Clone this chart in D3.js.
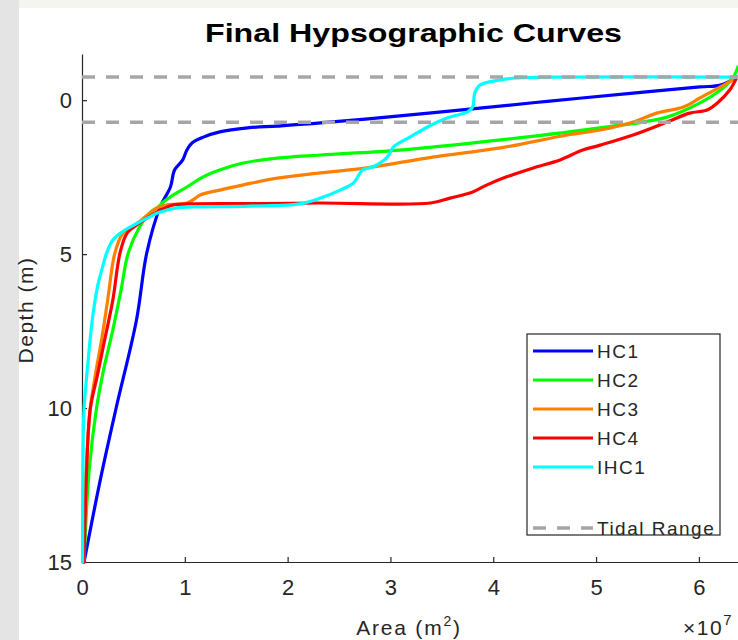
<!DOCTYPE html>
<html><head><meta charset="utf-8">
<script src="https://cdn.jsdelivr.net/npm/d3@7"></script>
<style>
html,body{margin:0;padding:0;background:#fff;}
svg{display:block;font-family:"Liberation Sans",Arial,Helvetica,sans-serif;}
</style></head>
<body>
<script>
// Area values in units of 1e7 m^2, depth in m
const seriesNames = ["HC1","HC2","HC3","HC4","IHC1"];
const seriesColors = ["#0000ff","#00ff00","#ff8000","#ff0000","#00ffff"];

const hc1Area  = [0.02,0.18,0.33,0.53,0.63,0.76,0.86,0.90,0.98,1.02,1.07,1.18,1.34,1.61,1.90,2.32,3.09,3.77,4.55,5.36,6.01,6.21,6.37];
const hc1Depth = [15,12.3,10.03,7.14,4.96,3.47,2.82,2.27,1.94,1.62,1.39,1.20,1.03,0.90,0.84,0.74,0.51,0.29,0.03,-0.23,-0.43,-0.49,-0.75];

const hc2Area  = [0.02,0.07,0.14,0.21,0.30,0.38,0.45,0.56,0.66,0.74,0.79,0.86,1.02,1.18,1.34,1.57,1.90,2.32,3.09,4.07,5.04,5.69,6.01,6.21,6.33,6.38];
const hc2Depth = [15,12.01,10.03,8.76,7.46,6.16,4.96,4.12,3.66,3.47,3.31,3.14,2.82,2.49,2.27,2.04,1.88,1.78,1.62,1.29,0.90,0.55,0.09,-0.33,-0.72,-1.08];

const hc3Area  = [0.01,0.04,0.08,0.13,0.19,0.25,0.32,0.40,0.54,0.73,0.83,1.02,1.08,1.15,1.34,1.57,1.90,2.32,2.77,3.41,4.07,4.72,5.04,5.36,5.59,5.85,6.01,6.21,6.33,6.37];
const hc3Depth = [15,12.01,10.03,8.93,7.79,6.49,4.96,4.31,3.99,3.50,3.40,3.34,3.24,3.08,2.92,2.75,2.53,2.36,2.20,1.85,1.55,1.13,0.97,0.71,0.42,0.22,-0.07,-0.43,-0.66,-0.75];

const hc4Area  = [0.02,0.045,0.08,0.15,0.22,0.30,0.37,0.44,0.56,0.73,0.83,0.89,1.03,1.63,2.32,3.39,3.58,3.80,3.94,4.13,4.39,4.65,4.87,5.04,5.36,5.69,5.91,6.08,6.18,6.30,6.37];
const hc4Depth = [15,12.01,10.03,8.93,7.79,6.49,4.96,4.31,3.99,3.63,3.47,3.40,3.37,3.36,3.34,3.34,3.18,2.98,2.75,2.49,2.20,1.94,1.62,1.46,1.13,0.71,0.42,0.32,0.09,-0.33,-0.75];

const ihc1Area  = [0.005,0.01,0.02,0.06,0.10,0.15,0.20,0.24,0.30,0.39,0.54,0.66,0.74,0.92,1.08,1.63,2.12,2.32,2.51,2.64,2.73,2.83,2.97,3.03,3.19,3.36,3.55,3.75,3.80,3.82,3.87,4.07,4.23,4.65,6.37];
const ihc1Depth = [15,11.36,10.03,8.44,7.14,6.07,5.42,4.96,4.54,4.28,3.99,3.79,3.66,3.50,3.47,3.44,3.37,3.18,2.92,2.69,2.27,2.17,1.85,1.52,1.20,0.87,0.58,0.38,0.22,-0.23,-0.49,-0.66,-0.72,-0.75,-0.75];

const tidalRange = [-0.75, 0.72];
const xTicks = [0,1,2,3,4,5,6];
const yTicks = [0,5,10,15];

const seriesArea = [hc1Area,hc2Area,hc3Area,hc4Area,ihc1Area];
const seriesDepth = [hc1Depth,hc2Depth,hc3Depth,hc4Depth,ihc1Depth];

const W = 738, H = 640;
const svg = d3.select("body").append("svg").attr("width",W).attr("height",H);

// screenshot-like frame
svg.append("rect").attr("x",0).attr("y",0).attr("width",W).attr("height",H).attr("fill","#ffffff");
svg.append("rect").attr("x",0).attr("y",0).attr("width",W).attr("height",8).attr("fill","#f5f5ef");
svg.append("rect").attr("x",0).attr("y",0).attr("width",19).attr("height",H).attr("fill","#e4e4e4");

const x = d3.scaleLinear().domain([0,6.4]).range([82,740]);
const y = d3.scaleLinear().domain([-1.5,15]).range([54,562]);

const axisColor = "#262626";

// axes
const xAxis = svg.append("g").attr("transform","translate(0,562)")
  .call(d3.axisBottom(x).tickValues(xTicks).tickFormat(d3.format("d")).tickSizeInner(-5).tickSizeOuter(0).tickPadding(17));
const yAxis = svg.append("g").attr("transform","translate(82,0)")
  .call(d3.axisLeft(y).tickValues(yTicks).tickFormat(d3.format("d")).tickSizeInner(-5).tickSizeOuter(0).tickPadding(10));
[xAxis,yAxis].forEach(g=>{
  g.select(".domain").attr("stroke",axisColor).attr("stroke-width",1.2);
  g.selectAll(".tick line").attr("stroke",axisColor).attr("stroke-width",1.2);
  g.selectAll(".tick text").attr("fill",axisColor).attr("font-size",22).attr("font-family","Liberation Sans, Arial, sans-serif");
});

// curves
const line = d3.line().x(d=>x(d[0])).y(d=>y(d[1])).curve(d3.curveCatmullRom.alpha(0.5));
seriesNames.forEach((name,i)=>{
  const pts = seriesArea[i].map((a,j)=>[a,seriesDepth[i][j]]);
  svg.append("path").datum(pts).attr("d",line).attr("fill","none")
    .attr("stroke",seriesColors[i]).attr("stroke-width",3.2).attr("stroke-linejoin","round").attr("stroke-linecap","round");
});

// tidal range
tidalRange.forEach(t=>{
  svg.append("line").attr("x1",x(0)).attr("x2",740).attr("y1",y(t)).attr("y2",y(t))
    .attr("stroke","#a6a6a6").attr("stroke-width",3.5).attr("stroke-dasharray","13,11");
});

// title & labels
svg.append("text").attr("x",205).attr("y",42)
  .attr("font-size",26).attr("font-weight","bold").attr("fill","#000")
  .attr("textLength",417).attr("lengthAdjust","spacingAndGlyphs").text("Final Hypsographic Curves");

const xl = svg.append("text").attr("x",409).attr("y",635).attr("text-anchor","middle")
  .attr("font-size",21).attr("letter-spacing",1.8).attr("fill",axisColor);
xl.append("tspan").text("Area (m");
xl.append("tspan").attr("font-size",14).attr("dy",-9).text("2");
xl.append("tspan").attr("dy",9).text(")");

svg.append("text").attr("transform","translate(33,310) rotate(-90)").attr("text-anchor","middle")
  .attr("font-size",21).attr("letter-spacing",1.5).attr("fill",axisColor).text("Depth (m)");

const ex = svg.append("text").attr("x",683).attr("y",635)
  .attr("font-size",21).attr("letter-spacing",1.5).attr("fill",axisColor);
ex.append("tspan").text("\u00d710");
ex.append("tspan").attr("font-size",15).attr("dy",-10).text("7");

// legend
const lg = svg.append("g");
lg.append("rect").attr("x",527).attr("y",334).attr("width",193).attr("height",201)
  .attr("fill","#fff").attr("stroke",axisColor).attr("stroke-width",1.2);
const legY = [351,380,409,438,467];
seriesNames.forEach((name,i)=>{
  lg.append("line").attr("x1",533).attr("x2",593).attr("y1",legY[i]).attr("y2",legY[i])
    .attr("stroke",seriesColors[i]).attr("stroke-width",3.2);
  lg.append("text").attr("x",597).attr("y",legY[i]+7).attr("font-size",19).attr("letter-spacing",1.5)
    .attr("fill",axisColor).text(name);
});
lg.append("line").attr("x1",533).attr("x2",593).attr("y1",528).attr("y2",528)
  .attr("stroke","#a6a6a6").attr("stroke-width",3.5).attr("stroke-dasharray","13,11");
lg.append("text").attr("x",597).attr("y",535).attr("font-size",19).attr("letter-spacing",1.5)
  .attr("fill",axisColor).text("Tidal Range");
</script>
</body></html>
